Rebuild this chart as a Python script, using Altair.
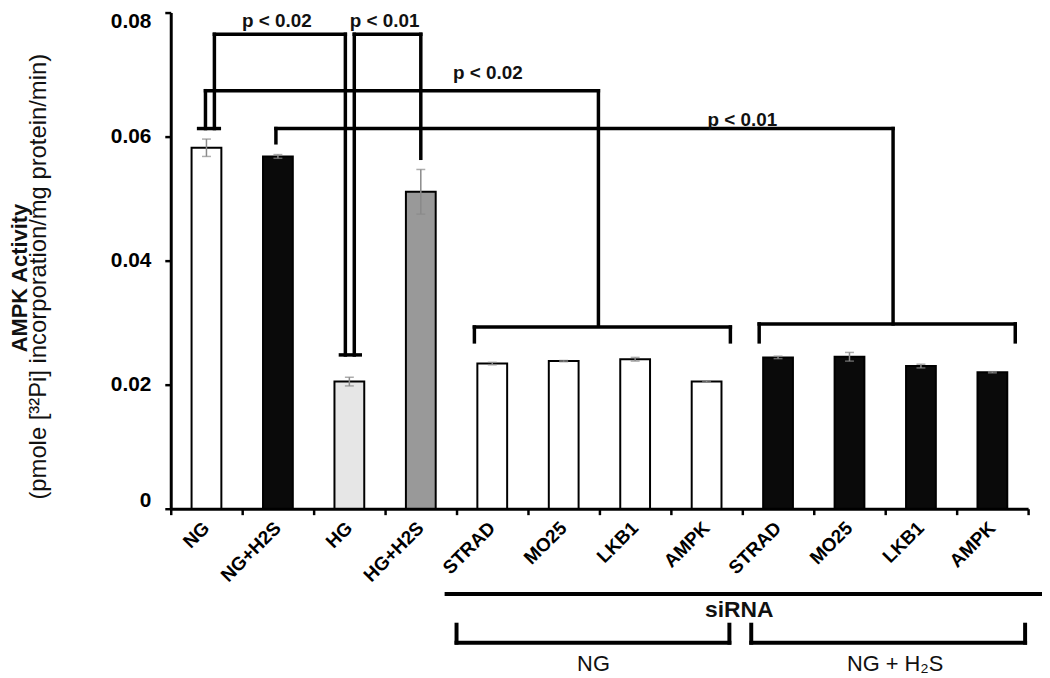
import altair as alt
import pandas as pd

# ---- data ----
cat_ids = ["NG", "NG+H2S", "HG", "HG+H2S", "STRAD", "MO25", "LKB1", "AMPK",
           "STRAD ", "MO25 ", "LKB1 ", "AMPK "]
groups = ["NG", "NG+H2S", "HG", "HG+H2S", "NG", "NG", "NG", "NG",
          "NG+H2S", "NG+H2S", "NG+H2S", "NG+H2S"]
values = [0.0582, 0.0568, 0.0205, 0.0511, 0.0234, 0.0238, 0.0241, 0.0205,
          0.0244, 0.0245, 0.0230, 0.0220]
errors = [0.0014, 0.0003, 0.0007, 0.0036, 0.0002, 0.0001, 0.0003, 0.0001,
          0.0002, 0.0007, 0.0003, 0.0001]
y_ticks = [0, 0.02, 0.04, 0.06, 0.08]

# significance brackets, x in bar-slot units (slot i spans i..i+1), y in data units
seg_x1 = [0.39, 0.486, 0.611, 0.611, 2.444, 2.375, 2.569, 2.569, 3.5,
          0.486, 5.986, 4.25, 4.25, 7.833,
          1.472, 1.472, 10.11, 8.236, 8.236, 11.82]
seg_x2 = [0.68, 0.486, 0.611, 2.444, 2.444, 2.653, 2.569, 3.5, 3.5,
          5.986, 5.986, 7.833, 4.25, 7.833,
          10.11, 1.472, 10.11, 11.82, 8.236, 11.82]
seg_y1 = [0.0613, 0.0613, 0.0613, 0.0765, 0.0248, 0.0248, 0.0248, 0.0765, 0.0565,
          0.0674, 0.0296, 0.0293, 0.0269, 0.0269,
          0.0613, 0.0590, 0.0298, 0.0298, 0.0269, 0.0269]
seg_y2 = [0.0613, 0.0674, 0.0765, 0.0765, 0.0765, 0.0248, 0.0765, 0.0765, 0.0765,
          0.0674, 0.0674, 0.0293, 0.0293, 0.0293,
          0.0613, 0.0613, 0.0613, 0.0298, 0.0298, 0.0298]

p_text = ["p < 0.02", "p < 0.01", "p < 0.02", "p < 0.01"]
p_x = [1.486, 2.993, 4.439, 8.0]
p_y = [0.0776, 0.0776, 0.0693, 0.0617]

# group annotations below the axis (extrapolated through the same scales)
low_x1 = [3.861, 4.0, 4.0, 7.819, 8.125, 8.125, 11.958]
low_x2 = [12.19, 7.819, 4.0, 7.819, 11.958, 8.125, 11.958]
low_y1 = [-0.01376, -0.0216, -0.0187, -0.0187, -0.0216, -0.0187, -0.0187]
low_y2 = [-0.01376, -0.0216, -0.0216, -0.0216, -0.0216, -0.0216, -0.0216]

grp_text = ["siRNA", "NG", "NG + H\u2082S"]
grp_x = [7.958, 5.917, 10.139]
grp_y = [-0.0174, -0.0262, -0.0262]
grp_weight = ["bold", "normal", "normal"]

ytitle_text = ["AMPK Activity", "(pmole [\u00b3\u00b2Pi] incorporation/mg protein/min)"]
ytitle_x = [-2.115, -1.84]
ytitle_y = [0.0372, 0.0374]
ytitle_weight = ["bold", "normal"]

FONT = "Liberation Sans"

bars_df = pd.DataFrame({"cid": cat_ids, "group": groups, "value": values, "err": errors})
bars_df["lo"] = bars_df["value"] - bars_df["err"]
bars_df["hi"] = bars_df["value"] + bars_df["err"]
seg_df = pd.DataFrame({"x1": seg_x1, "x2": seg_x2, "y1": seg_y1, "y2": seg_y2})
low_df = pd.DataFrame({"x1": low_x1, "x2": low_x2, "y1": low_y1, "y2": low_y2})
p_df = pd.DataFrame({"t": p_text, "x": p_x, "y": p_y})
grp_df = pd.DataFrame({"t": grp_text, "x": grp_x, "y": grp_y, "w": grp_weight})
yt_df = pd.DataFrame({"t": ytitle_text, "x": ytitle_x, "y": ytitle_y, "w": ytitle_weight})

yscale = alt.Scale(domain=[0, 0.08], nice=False, zero=False)
bscale = alt.Scale(domain=cat_ids, paddingInner=0.583, paddingOuter=0.2915)
qscale = alt.Scale(domain=[0, 12], nice=False, zero=False)

y_axis = alt.Axis(values=y_ticks, labelExpr="datum.value == 0 ? '0' : format(datum.value, '.2f')",
                  title=None, grid=False, domainWidth=3, domainColor="black", orient="left",
                  tickWidth=2.5, tickColor="black", tickSize=6, labelPadding=14,
                  labelFlush=True, labelFlushOffset=2,
                  labelFontSize=21, labelFontWeight="bold", labelColor="black", labelFont=FONT)


def Y(field):
    return alt.Y(field, scale=yscale, axis=y_axis)


bars = alt.Chart(bars_df).mark_bar(stroke="black", strokeWidth=2).encode(
    x=alt.X("cid:N", scale=bscale, sort=None,
            axis=alt.Axis(title=None, ticks=False, domain=False, labelAngle=-45, orient="bottom",
                          labelAlign="right", labelBaseline="middle", labelPadding=16,
                          labelExpr="trim(datum.label)", labelFontSize=19,
                          labelFontWeight="bold", labelColor="black", labelFont=FONT)),
    y=Y("value:Q"),
    fill=alt.Fill("group:N", legend=None,
                  scale=alt.Scale(domain=["NG", "NG+H2S", "HG", "HG+H2S"],
                                  range=["#ffffff", "#0a0a0a", "#e6e6e6", "#999999"])),
)

err_rule = alt.Chart(bars_df).mark_rule(color="#8a8a8a", strokeWidth=1.5).encode(
    x=alt.X("cid:N", scale=bscale, sort=None, axis=None),
    y=Y("lo:Q"), y2="hi")

err_caps = alt.Chart(bars_df).transform_fold(["lo", "hi"], as_=["end", "v"]).mark_tick(
    color="#8a8a8a", thickness=1.5, size=9).encode(
    x=alt.X("cid:N", scale=bscale, sort=None, axis=None),
    y=Y("v:Q"))

top_rules = alt.Chart(seg_df).mark_rule(color="black", strokeWidth=3.5, strokeCap="square").encode(
    x=alt.X("x1:Q", scale=qscale,
            axis=alt.Axis(values=list(range(13)), labels=False, title=None, grid=False,
                          orient="bottom", domainWidth=3, domainColor="black", tickWidth=2.5,
                          tickColor="black", tickSize=6)),
    x2="x2",
    y=Y("y1:Q"), y2="y2")

low_rules = alt.Chart(low_df).mark_rule(color="black", strokeWidth=4, strokeCap="square").encode(
    x=alt.X("x1:Q", scale=qscale, axis=None), x2="x2",
    y=Y("y1:Q"), y2="y2")

p_labels = alt.Chart(p_df).mark_text(font=FONT, fontSize=19, fontWeight="bold",
                                     baseline="alphabetic", color="#111").encode(
    x=alt.X("x:Q", scale=qscale, axis=None),
    y=Y("y:Q"), text="t:N")

grp_bold = alt.Chart(grp_df).transform_filter("datum.w == 'bold'").mark_text(
    font=FONT, fontSize=23, fontWeight="bold", baseline="alphabetic", color="#111").encode(
    x=alt.X("x:Q", scale=qscale, axis=None),
    y=Y("y:Q"), text="t:N")
grp_norm = alt.Chart(grp_df).transform_filter("datum.w == 'normal'").mark_text(
    font=FONT, fontSize=22, baseline="alphabetic", color="#111").encode(
    x=alt.X("x:Q", scale=qscale, axis=None),
    y=Y("y:Q"), text="t:N")

yt_bold = alt.Chart(yt_df).transform_filter("datum.w == 'bold'").mark_text(
    font=FONT, fontSize=22, fontWeight="bold", angle=270, baseline="middle", color="#111").encode(
    x=alt.X("x:Q", scale=qscale, axis=None),
    y=Y("y:Q"), text="t:N")
yt_norm = alt.Chart(yt_df).transform_filter("datum.w == 'normal'").mark_text(
    font=FONT, fontSize=24, angle=270, baseline="middle", color="#111").encode(
    x=alt.X("x:Q", scale=qscale, axis=None),
    y=Y("y:Q"), text="t:N")

chart = alt.layer(
    bars, err_rule, err_caps, top_rules, low_rules, p_labels, grp_bold, grp_norm, yt_bold, yt_norm
).resolve_scale(x="independent").properties(
    width=864, height=500,
    autosize=alt.AutoSizeParams(type="none"),
    padding={"left": 164, "top": 2, "right": 14, "bottom": 168},
    background="white",
).configure_view(stroke=None)

chart.save("out.html", embed_options={"renderer": "svg", "actions": False})
